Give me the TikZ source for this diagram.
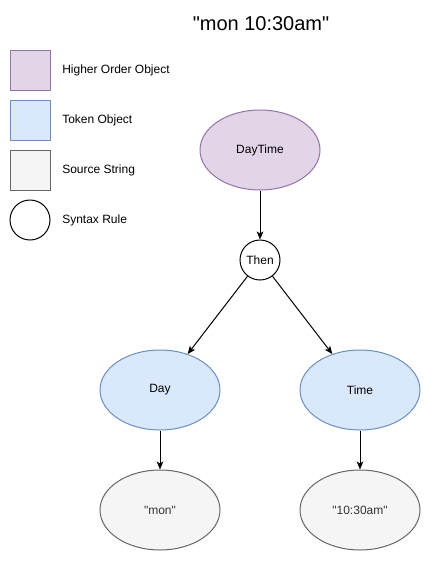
\documentclass[tikz,border=0pt]{standalone}
\usepackage{fontspec}
\setmainfont{Liberation Sans}
\usetikzlibrary{shapes.geometric,arrows.meta}

\definecolor{hoFill}{HTML}{E1D5E7}
\definecolor{hoLine}{HTML}{9673A6}
\definecolor{tokFill}{HTML}{DAE8FC}
\definecolor{tokLine}{HTML}{6C8EBF}
\definecolor{srcFill}{HTML}{F5F5F5}
\definecolor{srcLine}{HTML}{666666}
\definecolor{srcText}{HTML}{333333}

\newcommand{\qt}{\textquotedbl}

\tikzset{
    higher/.style={ellipse, draw=hoLine, fill=hoFill, line width=0.75pt,
        minimum width=90pt, minimum height=60pt, inner sep=0pt, font=\fontsize{9pt}{11pt}\selectfont},
    token/.style={ellipse, draw=tokLine, fill=tokFill, line width=0.75pt,
        minimum width=90pt, minimum height=60pt, inner sep=0pt, font=\fontsize{9pt}{11pt}\selectfont},
    source/.style={ellipse, draw=srcLine, fill=srcFill, line width=0.75pt, text=srcText,
        minimum width=90pt, minimum height=60pt, inner sep=0pt, font=\fontsize{9pt}{11pt}\selectfont},
    rule/.style={circle, draw=black, fill=white, line width=0.75pt,
        minimum size=30pt, inner sep=0pt, font=\fontsize{9pt}{11pt}\selectfont},
    keybox/.style={rectangle, line width=0.75pt, minimum size=30pt, inner sep=0pt},
    keytext/.style={anchor=west, inner sep=0pt, font=\fontsize{9pt}{11pt}\selectfont},
    link/.style={line width=0.75pt, -{Stealth[length=6pt, width=5pt, inset=1.5pt]}}
}

\begin{document}
\begin{tikzpicture}[x=0.75pt, y=-0.75pt]
    \useasboundingbox (0, 0) rectangle (431, 561);

    % title
    \node[font=\fontsize{15pt}{18pt}\selectfont] (title) at (261, 24) {\qt mon 10:30am\qt};

    % legend
    \node[keybox, draw=hoLine, fill=hoFill] (k1) at (30, 70) {};
    \node[keybox, draw=tokLine, fill=tokFill] (k2) at (30, 120) {};
    \node[keybox, draw=srcLine, fill=srcFill] (k3) at (30, 170) {};
    \node[rule] (k4) at (30, 220) {};
    \node[keytext] (t1) at (62, 70) {Higher Order Object};
    \node[keytext] (t2) at (62, 120) {Token Object};
    \node[keytext] (t3) at (62, 170) {Source String};
    \node[keytext] (t4) at (62, 220) {Syntax Rule};

    % tree
    \node[higher] (daytime) at (260, 150) {DayTime};
    \node[rule] (then) at (260, 260) {Then};
    \node[token] (day) at (160, 390) {Day};
    \node[token] (time) at (360, 390) {Time};
    \node[source] (mon) at (160, 510) {\qt mon\qt};
    \node[source] (clock) at (360, 510) {\qt 10:30am\qt};

    % edges
    \draw[link] (daytime) -- (then);
    \draw[link] (then) -- (day);
    \draw[link] (then) -- (time);
    \draw[link] (day) -- (mon);
    \draw[link] (time) -- (clock);
\end{tikzpicture}
\end{document}
